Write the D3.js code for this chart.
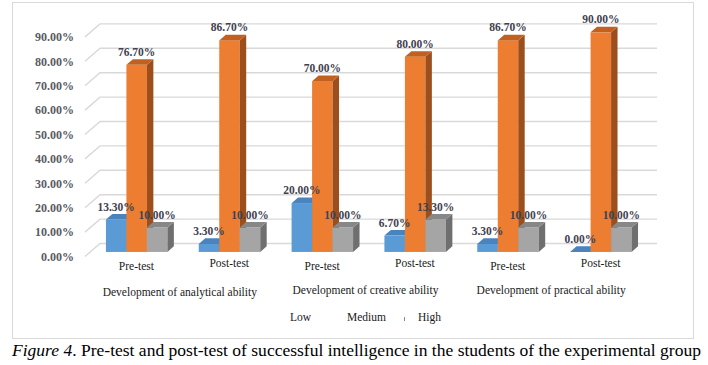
<!DOCTYPE html>
<html>
<head>
<meta charset="utf-8">
<script src="https://cdn.jsdelivr.net/npm/d3@7"></script>
<style>
  html, body { margin: 0; padding: 0; background: #fff; }
  svg { display: block; }
</style>
</head>
<body>
<svg id="chart" width="708" height="365" font-family="Liberation Serif, Times New Roman, serif"></svg>
<script>
// ---- data ----
const categories = ["Pre-test", "Post-test", "Pre-test", "Post-test", "Pre-test", "Post-test"];
const groupLabels = ["Development of analytical ability", "Development of creative ability", "Development of practical ability"];
const seriesNames = ["Low", "Medium", "High"];
const lowValues = [13.3, 3.3, 20.0, 6.7, 3.3, 0.0];
const mediumValues = [76.7, 86.7, 70.0, 80.0, 86.7, 90.0];
const highValues = [10.0, 10.0, 10.0, 13.3, 10.0, 10.0];
const tickValues = [0, 10, 20, 30, 40, 50, 60, 70, 80, 90];
const captionLead = "Figure 4";
const caption = ". Pre-test and post-test of successful intelligence in the students of the experimental group";

// ---- layout ----
const FONT = "Liberation Serif";
const svg = d3.select("#chart");
const wallDX = 15, wallDY = -13;          // depth of the 3D box
const barDepthStart = 0.35, barDepthLen = 0.43;
const colors = [
  { front: "#5b9bd5", side: "#3b6e9f", top: "#4a83bd" },
  { front: "#ed7d31", side: "#9c4f1d", top: "#c2611f" },
  { front: "#a5a5a5", side: "#6f6f6f", top: "#878787" }
];

const x = d3.scaleBand().domain(d3.range(categories.length)).range([85, 642]).paddingInner(0).paddingOuter(0);
const y = d3.scaleLinear().domain([0, 90]).range([256.5, 36.9]);
const sub = d3.scaleBand().domain(d3.range(3)).range([0, 61.5]);

// outer frame
svg.append("rect").attr("x", 12.5).attr("y", 2.5).attr("width", 681).attr("height", 336)
  .attr("fill", "#fff").attr("stroke", "#d9d9d9").attr("stroke-width", 1);

// gridlines (back wall + side wall diagonals)
const x0 = x.range()[0], x1 = x.range()[1];
const grid = svg.append("g");
tickValues.forEach(v => {
  const yf = y(v);
  grid.append("path")
    .attr("d", `M${x0},${yf} L${x0 + wallDX},${yf + wallDY} L${x1 + wallDX},${yf + wallDY}`)
    .attr("fill", "none").attr("stroke", "#d9d9d9").attr("stroke-width", 1.4);
});

// tick labels
svg.append("g").selectAll("text").data(tickValues).join("text")
  .attr("font-family", FONT)
  .attr("x", 74).attr("y", d => y(d)).attr("dy", "0.35em")
  .attr("text-anchor", "end").attr("font-size", 12).attr("font-weight", "bold")
  .attr("fill", "#595a63")
  .text(d => d.toFixed(2) + "%");

// bars
const series = [lowValues, mediumValues, highValues];
const bdx0 = wallDX * barDepthStart, bdy0 = wallDY * barDepthStart;
const bdx = wallDX * barDepthLen, bdy = wallDY * barDepthLen;
const barsG = svg.append("g");
const labels = [];
categories.forEach((c, i) => {
  const groupStart = x(i) + (x.bandwidth() - 61.5) / 2;
  series.forEach((vals, s) => {
    const v = vals[i];
    const bx = groupStart + sub(s) + bdx0;
    const bw = sub.bandwidth();
    const yb = y(0) + bdy0;
    const yt = y(v) + bdy0;
    const col = colors[s];
    barsG.append("rect").attr("x", bx).attr("y", yt).attr("width", bw).attr("height", Math.max(0, yb - yt))
      .attr("fill", col.front);
    barsG.append("path")
      .attr("d", `M${bx + bw},${yt} L${bx + bw + bdx},${yt + bdy} L${bx + bw + bdx},${yb + bdy} L${bx + bw},${yb} Z`)
      .attr("fill", col.side);
    barsG.append("path")
      .attr("d", `M${bx},${yt} L${bx + bdx},${yt + bdy} L${bx + bw + bdx},${yt + bdy} L${bx + bw},${yt} Z`)
      .attr("fill", col.top);
    labels.push({ x: bx + bw / 2, y: yt - 13, t: v.toFixed(2) + "%" });
  });
});

// value labels
svg.append("g").selectAll("text").data(labels).join("text")
  .attr("font-family", FONT)
  .attr("x", d => d.x).attr("y", d => d.y).attr("dy", "0.35em")
  .attr("text-anchor", "middle").attr("font-size", 11.5).attr("font-weight", "bold")
  .attr("fill", "#3f4150")
  .text(d => d.t);

// category labels
svg.append("g").selectAll("text").data(categories).join("text")
  .attr("font-family", FONT)
  .attr("x", (d, i) => x(i) + x.bandwidth() / 2 + 5)
  .attr("y", (d, i) => (i % 2 === 0 ? 266 : 263)).attr("dy", "0.35em")
  .attr("text-anchor", "middle").attr("font-size", 11.5).attr("fill", "#1a1a1a")
  .text(d => d);

// group labels
svg.append("g").selectAll("text").data(groupLabels).join("text")
  .attr("font-family", FONT)
  .attr("x", (d, i) => x(2 * i) + x.bandwidth() + 2)
  .attr("y", (d, i) => (i === 0 ? 292 : 290)).attr("dy", "0.35em")
  .attr("text-anchor", "middle").attr("font-size", 11.5).attr("fill", "#1a1a1a")
  .text(d => d);

// legend (keys are blank in the reference)
const legendX = [290, 347, 418];
svg.append("g").selectAll("text").data(seriesNames).join("text")
  .attr("font-family", FONT)
  .attr("x", (d, i) => legendX[i]).attr("y", 317).attr("dy", "0.35em")
  .attr("font-size", 11.5).attr("fill", "#1a1a1a")
  .text(d => d);
svg.append("rect").attr("x", 404).attr("y", 317).attr("width", 1).attr("height", 4).attr("fill", "#888");

// caption
const cap = svg.append("text").attr("font-family", FONT)
  .attr("x", 12).attr("y", 356).attr("font-size", 17.5).attr("fill", "#000")
  .attr("textLength", 689).attr("lengthAdjust", "spacingAndGlyphs");
cap.append("tspan").attr("font-style", "italic").text(captionLead);
cap.append("tspan").text(caption);
</script>
</body>
</html>
